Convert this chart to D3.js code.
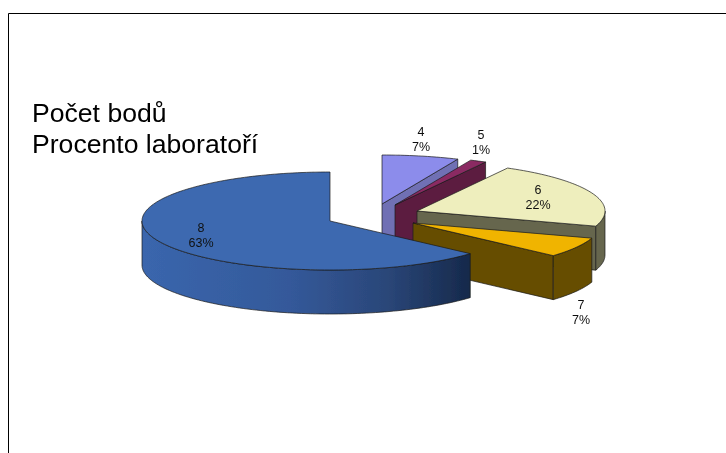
<!DOCTYPE html>
<html>
<head>
<meta charset="utf-8">
<script src="https://cdn.jsdelivr.net/npm/d3@7"></script>
<style>
html, body { margin: 0; padding: 0; background: #fff; overflow: hidden; }
svg { display: block; font-family: "Liberation Sans", Arial, sans-serif; }
</style>
</head>
<body>
<svg id="chart" width="726" height="453"></svg>
<script>
var categories = ["4", "5", "6", "7", "8"];
// labels show these rounded
var percents = [6.6, 1.4, 22, 6.6, 63.4];
var titleLines = ["Počet bodů", "Procento laboratoří"];

// pulled out slice positions, label positions and colours
var apex = [[382, 204], [395, 205], [417, 211], [413, 223], [330, 221]];
var labelPos = [[421, 136], [481, 139], [538, 194], [581, 309], [201, 232]];
var topColor = ["#8c8ceb", "#8a2a62", "#eeeebd", "#f0b400", "#3c69b0"];
var sideColor = ["#6f6fb4", "#5c1f40", "#66664e", "#664d00", "url(#blueWall)"];

var rx = 188, ry = 49, depth = 44;

var svg = d3.select("#chart");

var defs = svg.append("defs");

var grad = defs.append("linearGradient")
	.attr("id", "blueWall")
	.attr("gradientUnits", "userSpaceOnUse")
	.attr("x1", 142).attr("x2", 470)
	.attr("y1", 0).attr("y2", 0);
grad.append("stop").attr("offset", 0).attr("stop-color", "#3a66ad");
grad.append("stop").attr("offset", 0.45).attr("stop-color", "#34599a");
grad.append("stop").attr("offset", 0.75).attr("stop-color", "#2a4678");
grad.append("stop").attr("offset", 1).attr("stop-color", "#16294b");

// the reference is a soft low res picture
defs.append("filter")
	.attr("id", "soft")
	.append("feGaussianBlur")
	.attr("stdDeviation", 0.35);

// frame
svg.append("path")
	.attr("d", "M8.5,453V13.5H726")
	.attr("fill", "none")
	.attr("stroke", "#000");

var chart = svg.append("g").attr("filter", "url(#soft)");

var slices = d3.pie().sort(null).value(function(d) { return d; })(percents);

var line = d3.line();

function project(center, a, dy) {
	return [center[0] + rx * Math.sin(a), center[1] - ry * Math.cos(a) + dy];
}

function arcPoints(center, a0, a1, dy) {
	var n = Math.max(2, Math.ceil(Math.abs(a1 - a0) * 40));
	return d3.range(n + 1).map(function(i) {
		return project(center, a0 + (a1 - a0) * i / n, dy);
	});
}

var node = chart.selectAll("g.slice").data(slices).enter()
	.append("g")
	.attr("class", "slice");

// cut face on the end edge, only the slices right of the gap show it
node.filter(function(d) { return d.index < 4; })
	.append("path")
	.attr("d", function(d) {
		var c = apex[d.index];
		var p = project(c, d.endAngle, 0);
		return line([c, p, [p[0], p[1] + depth], [c[0], c[1] + depth]]) + "Z";
	})
	.attr("fill", function(d) { return sideColor[d.index]; })
	.attr("stroke", "#1a1a1a")
	.attr("stroke-width", 0.7);

// outer wall, front half of the ellipse only
node.append("path")
	.attr("d", function(d) {
		var c = apex[d.index];
		var a0 = Math.max(d.startAngle, Math.PI / 2);
		var a1 = Math.min(d.endAngle, Math.PI * 1.5);
		if (a1 <= a0) return null;
		var pts = arcPoints(c, a0, a1, 0).concat(arcPoints(c, a1, a0, depth));
		return line(pts) + "Z";
	})
	.attr("fill", function(d) { return sideColor[d.index]; })
	.attr("stroke", "#1a1a1a")
	.attr("stroke-width", 0.7);

// top face
node.append("path")
	.attr("d", function(d) {
		var c = apex[d.index];
		return line([c].concat(arcPoints(c, d.startAngle, d.endAngle, 0))) + "Z";
	})
	.attr("fill", function(d) { return topColor[d.index]; })
	.attr("stroke", "#1a1a1a")
	.attr("stroke-width", 0.7);

var label = chart.selectAll("text.label").data(slices).enter()
	.append("text")
	.attr("class", "label")
	.attr("text-anchor", "middle")
	.attr("font-size", 12.5)
	.attr("fill", "#111");

label.append("tspan")
	.attr("x", function(d) { return labelPos[d.index][0]; })
	.attr("y", function(d) { return labelPos[d.index][1]; })
	.text(function(d) { return categories[d.index]; });

label.append("tspan")
	.attr("x", function(d) { return labelPos[d.index][0]; })
	.attr("y", function(d) { return labelPos[d.index][1] + 15; })
	.text(function(d) { return Math.round(d.data) + "%"; });

chart.selectAll("text.title").data(titleLines).enter()
	.append("text")
	.attr("class", "title")
	.attr("x", 32)
	.attr("y", function(d, i) { return 122 + i * 31; })
	.attr("font-size", 26.6)
	.attr("fill", "#000")
	.text(function(d) { return d; });
</script>
</body>
</html>
